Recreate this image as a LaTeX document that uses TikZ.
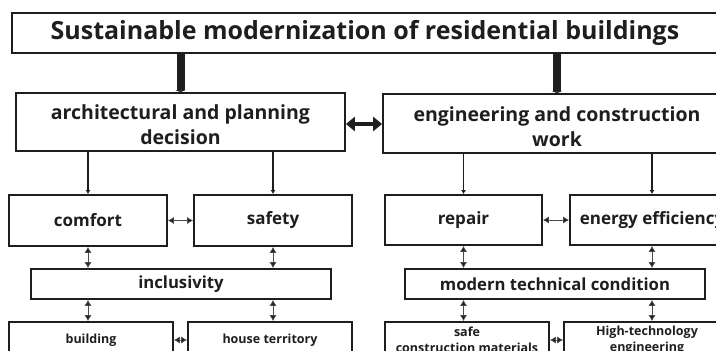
\documentclass[tikz,border=0pt]{standalone}
\usepackage{fontspec}
\setmainfont{Open Sans}
\usetikzlibrary{arrows.meta}
\definecolor{InkGray}{RGB}{30,30,30}

\begin{document}
\begin{tikzpicture}[x=1pt, y=-1pt,
    box/.style={draw=InkGray, line width=1.8pt, fill=white, text=InkGray,
      font=\bfseries, align=center, inner sep=0pt},
    link/.style={InkGray!80, line width=0.7pt,
      {Latex[length=6pt,width=7pt,fill=InkGray]}-{Latex[length=6pt,width=7pt,fill=InkGray]}},
    down/.style={InkGray, line width=1.2pt, -{Latex[length=4pt,width=5pt]}},
    trunk/.style={InkGray, line width=8pt, -{Triangle[length=2pt,width=10pt]}},
    heavy/.style={InkGray, line width=4pt,
      {Triangle[length=9pt,width=14pt]}-{Triangle[length=9pt,width=14pt]}}]
    \useasboundingbox (0,0) rectangle (716,351);
    \clip (0,0) rectangle (716,351);
    % Top level
    \node[box, line width=1.4pt, minimum width=706, minimum height=40,
      font=\bfseries\fontsize{25}{30}\selectfont] (title) at (365,33)
      {Sustainable modernization of residential buildings};
    % Two directions (strut pushes the two lines a little lower)
    \node[box, minimum width=329, minimum height=58,
      font=\bfseries\fontsize{19.5}{25}\selectfont] (arch) at (180.5,122)
      {\rule{0pt}{21pt}architectural and planning\\decision};
    \node[box, minimum width=348, minimum height=59,
      font=\bfseries\fontsize{19.5}{25}\selectfont] (eng) at (557,123.5)
      {\rule{0pt}{21pt}engineering and construction\\work};
    % Second row
    \node[box, minimum width=158, minimum height=51,
      font=\bfseries\fontsize{17}{20}\selectfont] (comfort) at (88,220.5) {comfort};
    \node[box, minimum width=158, minimum height=51,
      font=\bfseries\fontsize{17}{20}\selectfont] (safety) at (273,220.5) {safety};
    \node[box, minimum width=157, minimum height=50,
      font=\bfseries\fontsize{17}{20}\selectfont] (repair) at (463.5,220) {repair};
    \node[box, minimum width=164, minimum height=50,
      font=\bfseries\fontsize{17}{20}\selectfont] (energy) at (652,220) {energy efficiency};
    % Middle bars
    \node[box, minimum width=300, minimum height=30,
      font=\bfseries\fontsize{16.7}{20}\selectfont] (incl) at (181,284) {inclusivity};
    \node[box, minimum width=300, minimum height=30,
      font=\bfseries\fontsize{16.7}{20}\selectfont] (modern) at (555,284) {modern technical condition};
    % Bottom row
    \node[box, minimum width=164, minimum height=36,
      font=\bfseries\fontsize{12.5}{16}\selectfont] (building) at (91,340) {building};
    \node[box, minimum width=164, minimum height=36,
      font=\bfseries\fontsize{12.5}{16}\selectfont] (house) at (270,340) {house territory};
    \node[box, minimum width=164, minimum height=36,
      font=\bfseries\fontsize{12.5}{16}\selectfont] (safe) at (467,340) {safe\\construction materials};
    \node[box, minimum width=166, minimum height=36,
      font=\bfseries\fontsize{12.5}{16}\selectfont] (hightech) at (647,340) {High-technology\\engineering};

    % Connections
    \draw[trunk] (title.south -| arch) -- (arch.north);
    \draw[trunk] (title.south -| eng) -- (eng.north);
    \draw[heavy] ([yshift=-2pt]arch.east) -- ([yshift=-2pt]arch.east -| eng.west);
    \foreach \hig/\low in {arch/comfort, arch/safety, eng/repair, eng/energy}
        \draw[down] (\hig.south -| \low) -- (\low.north);
    \foreach \lft/\rgt in {comfort/safety, building/house, repair/energy, safe/hightech}
        \draw[link] (\lft.east) -- (\rgt.west);
    \foreach \hig/\mdl/\low in {comfort/incl/building, safety/incl/house,
                                repair/modern/safe, energy/modern/hightech} {
        \draw[link] (\hig.south) -- (\hig.south |- \mdl.north);
        \draw[link] (\mdl.south -| \hig) -- (\low.north -| \hig);
    }
\end{tikzpicture}
\end{document}
